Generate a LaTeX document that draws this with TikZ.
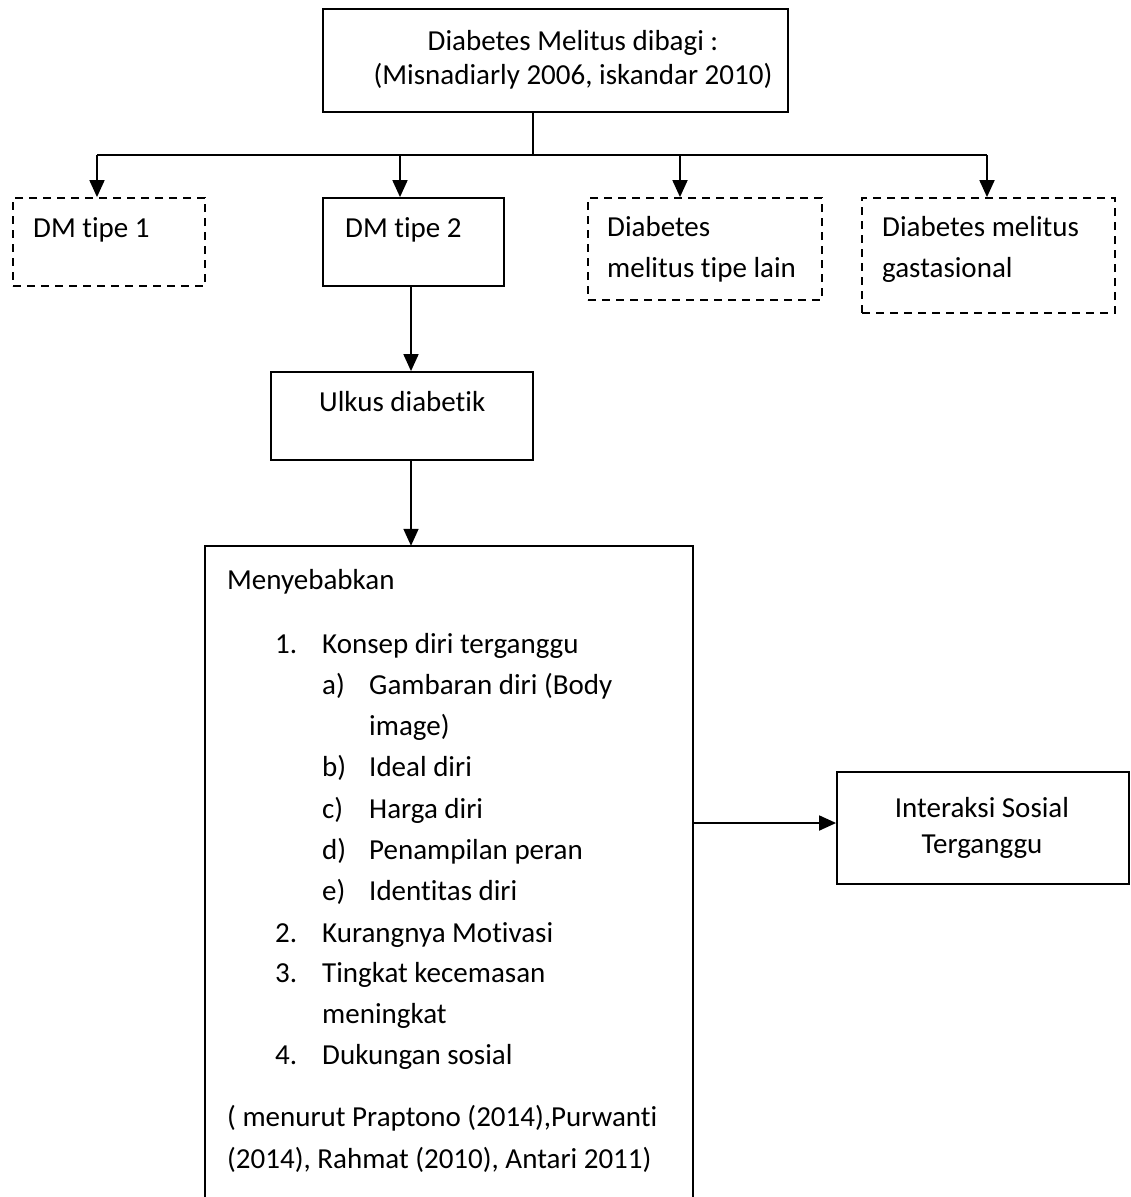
\documentclass[tikz,border=0pt]{standalone}
\usepackage{fontspec}
\setmainfont{Carlito}[Ligatures={NoCommon}]
\usetikzlibrary{arrows.meta,fit}

\tikzset{
  box/.style={draw, line width=1.8pt, inner sep=0pt},
  dbox/.style={box, dash pattern=on 8pt off 6pt},
  txt/.style={anchor=base west, inner sep=0pt},
  ctr/.style={anchor=base, inner sep=0pt},
  line/.style={line width=1.8pt},
  arr/.style={line, -{Triangle[length=17pt,width=15pt]}}
}

\begin{document}
\begin{tikzpicture}[x=1pt,y=-1pt,font=\fontsize{29}{35}\selectfont]
        \useasboundingbox (0,0) rectangle (1131,1197);

        \node[box, fit={(323,9) (788,112)}] (root) {};
        \node[ctr] (roota) at (573,50) {Diabetes Melitus dibagi :};
        \node[ctr] (rootb) at (573,84) {(Misnadiarly 2006, iskandar 2010)};

        \node[dbox, fit={(13,198) (205,286)}] (dm1) {};
        \node[txt] (dm1t) at (33,237) {DM tipe 1};
        \node[box, fit={(323,198) (504,286)}] (dm2) {};
        \node[txt] (dm2t) at (345,237) {DM tipe 2};
        \node[dbox, fit={(588,198) (822,300)}] (dmx) {};
        \node[txt] (dmxa) at (607,236) {Diabetes};
        \node[txt] (dmxb) at (607,277) {melitus tipe lain};
        \node[dbox, fit={(862,198) (1115,313)}] (dmg) {};
        \node[txt] (dmga) at (882,236) {Diabetes melitus};
        \node[txt] (dmgb) at (882,277) {gastasional};

        \node[box, fit={(271,372) (533,460)}] (ulkus) {};
        \node[txt] (ulkust) at (319,411) {Ulkus diabetik};

        % kotak besar, bawahnya terpotong
        \node[inner sep=0pt, fit={(205,546) (693,1197)}] (cause) {};
        \draw[line] (cause.south west) -- (cause.north west) -- (cause.north east) -- (cause.south east);
        \node[txt] (causet) at (227,589) {Menyebabkan};
        \foreach \k/\s/\y in {1/Konsep diri terganggu/653, 2/Kurangnya Motivasi/942, 3/Tingkat kecemasan/982, 4/Dukungan sosial/1064} {
            \node[txt] (num\k) at (275,\y) {\k.};
            \node[txt] (item\k) at (322,\y) {\s};
        }
        \foreach \k/\s/\y in {a/Gambaran diri (Body/694, b/Ideal diri/776, c/Harga diri/818, d/Penampilan peran/859, e/Identitas diri/900} {
            \node[txt] (let\k) at (322,\y) {\k)};
            \node[txt] (sub\k) at (369,\y) {\s};
        }
        \node[txt] (suba2) at (369,735) {image)};
        \node[txt] (item32) at (322,1023) {meningkat};
        \node[txt] (refa) at (227,1126) {( menurut Praptono (2014),Purwanti};
        \node[txt] (refb) at (227,1168) {(2014), Rahmat (2010), Antari 2011)};

        \node[box, fit={(837,772) (1129,884)}] (social) {};
        \node[ctr] (sociala) at (982,817) {Interaksi Sosial};
        \node[ctr] (socialb) at (982,853) {Terganggu};

        \coordinate (split) at (533,155);
        \coordinate (t1) at (97,155);
        \coordinate (t2) at (400,155);
        \coordinate (t3) at (680,155);
        \coordinate (t4) at (987,155);
        \draw[line] (root.south -| split) -- (split);
        \draw[line] (t1) -- (t4);
        \foreach \t/\b in {t1/dm1, t2/dm2, t3/dmx, t4/dmg}
            \draw[arr] (\t) -- (\t |- \b.north);

        \coordinate (down) at (411,0);
        \draw[arr] (dm2.south -| down) -- (ulkus.north -| down);
        \draw[arr] (ulkus.south -| down) -- (cause.north -| down);
        \coordinate (side) at (0,823);
        \draw[arr] (cause.east |- side) -- (social.west |- side);
    \end{tikzpicture}
\end{document}
